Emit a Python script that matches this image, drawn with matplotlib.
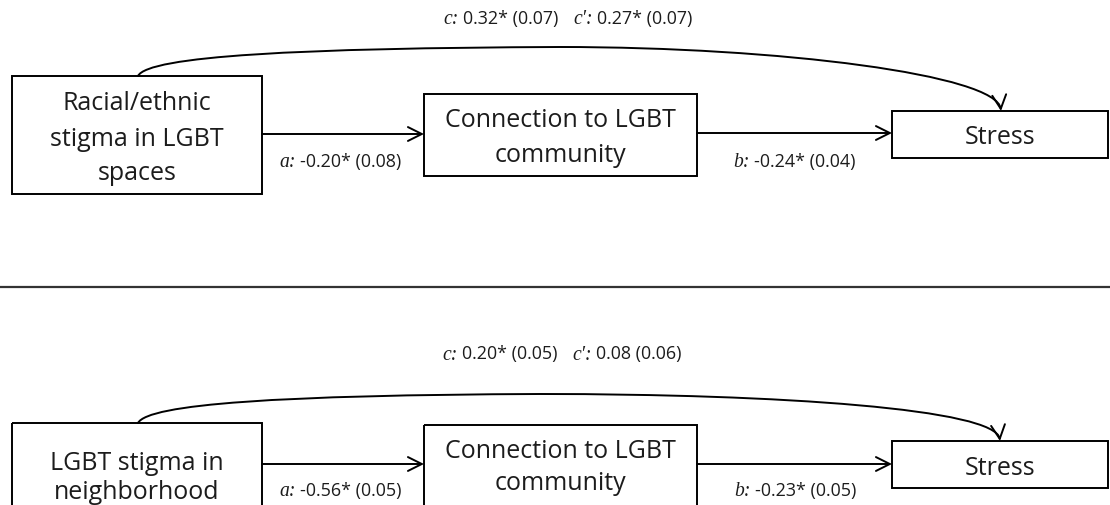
import matplotlib
matplotlib.use("Agg")
import matplotlib.pyplot as plt
from matplotlib.patches import Rectangle, FancyArrowPatch
from matplotlib.path import Path
from matplotlib.offsetbox import TextArea, HPacker, AnnotationBbox

# Mediation models: predictor -> connection to LGBT community -> stress
predictors = [["Racial/ethnic", "stigma in LGBT", "spaces"],
              ["LGBT stigma in", "neighborhood"]]
mediator = ["Connection to LGBT", "community"]
outcome = ["Stress"]

a_est = [-0.20, -0.56]
a_se = [0.08, 0.05]
a_sig = [True, True]
b_est = [-0.24, -0.23]
b_se = [0.04, 0.05]
b_sig = [True, True]
c_est = [0.32, 0.20]
c_se = [0.07, 0.05]
c_sig = [True, True]
cp_est = [0.27, 0.08]
cp_se = [0.07, 0.06]
cp_sig = [True, False]

SANS = ["Open Sans", "DejaVu Sans"]
SERIF = ["Liberation Serif", "DejaVu Serif"]
LW = 1.4
BOX_FS = 18.0
LAB_FS = 12.9
INK = "#1c1c1c"


def fmt(est, se, sig):
    return f"{est:.2f}{'*' if sig else ''} ({se:.2f})"


fig = plt.figure(figsize=(11.10, 5.06), dpi=100)
ax = fig.add_axes([0, 0, 1, 1])
ax.set_xlim(0, 1110)
ax.set_ylim(506, 0)
ax.axis("off")


def box(x0, y0, x1, y1, lines, baselines):
    ax.add_patch(Rectangle((x0, y0), x1 - x0, y1 - y0, fill=False,
                           edgecolor="black", lw=LW))
    for txt, yb in zip(lines, baselines):
        ax.text((x0 + x1) / 2, yb, txt, ha="center", va="baseline",
                family=SANS, fontsize=BOX_FS, color=INK)


ARROW = "->,head_length=1.0,head_width=0.5"


def straight_arrow(x0, x1, y):
    ax.add_patch(FancyArrowPatch((x0, y), (x1, y), arrowstyle=ARROW,
                                 mutation_scale=10, lw=LW, color="black",
                                 shrinkA=0, shrinkB=0))


def curved_arrow(start, c1, c2, peak, c3, c4, end):
    # two joined cubic segments: rise to the crest, then fall into the target
    path = Path([start, c1, c2, peak, c3, c4, end],
                [Path.MOVETO] + [Path.CURVE4] * 6)
    ax.add_patch(FancyArrowPatch(path=path, arrowstyle=ARROW,
                                 mutation_scale=10, lw=LW, color="black"))


def coef_label(x, y, parts, gap=11):
    groups = []
    for letter, value in parts:
        groups.append(HPacker(children=[
            TextArea(letter, textprops=dict(family=SERIF, style="italic",
                                            fontsize=LAB_FS + 1.2, color=INK)),
            TextArea(value, textprops=dict(family=SANS, fontsize=LAB_FS,
                                           color=INK))],
            align="baseline", pad=0, sep=3))
    packed = HPacker(children=groups, align="baseline", pad=0, sep=gap)
    ab = AnnotationBbox(packed, (x, y), xycoords="data", frameon=False,
                        box_alignment=(0.5, 0.5), pad=0)
    ax.add_artist(ab)


# ---- upper model ----
box(12, 77, 262, 195, predictors[0], [110, 146, 180])
box(424, 95, 697, 177, mediator, [127, 162])
box(892, 112, 1108, 159, outcome, [144])
straight_arrow(262, 424, 135)
straight_arrow(697, 892, 134)
curved_arrow((138, 77), (148, 57), (300, 49), (560, 48),
             (780, 48), (997, 76), (1001, 112))
coef_label(568, 19, [("c:", fmt(c_est[0], c_se[0], c_sig[0])),
                     ("c′:", fmt(cp_est[0], cp_se[0], cp_sig[0]))])
coef_label(340, 162, [("a:", fmt(a_est[0], a_se[0], a_sig[0]))])
coef_label(794, 162, [("b:", fmt(b_est[0], b_se[0], b_sig[0]))])

# divider between the two models
ax.plot([0, 1110], [288, 288], color="#333333", lw=1.6, solid_capstyle="butt")

# ---- lower model ----
box(12, 424, 262, 530, predictors[1], [470, 499])
box(424, 426, 697, 530, mediator, [458, 490])
box(892, 442, 1108, 489, outcome, [475])
straight_arrow(262, 424, 465)
straight_arrow(697, 892, 465)
curved_arrow((138, 424), (148, 405), (280, 396), (540, 395),
             (780, 395), (996, 410), (1000, 442))
coef_label(562, 355, [("c:", fmt(c_est[1], c_se[1], c_sig[1])),
                      ("c′:", fmt(cp_est[1], cp_se[1], cp_sig[1]))])
coef_label(340, 492, [("a:", fmt(a_est[1], a_se[1], a_sig[1]))])
coef_label(795, 492, [("b:", fmt(b_est[1], b_se[1], b_sig[1]))])

fig.savefig("out.png", dpi=100, facecolor="white")
